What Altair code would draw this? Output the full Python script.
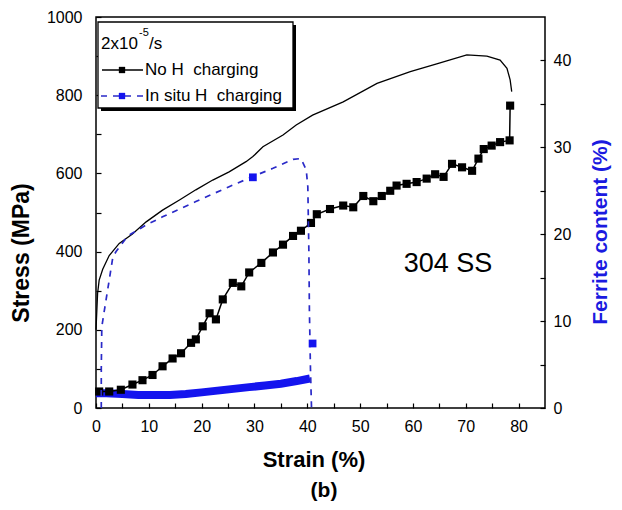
import altair as alt
import pandas as pd

# ---------------- data ----------------
# stress-strain, no H charging (black thin line)
strain_noH = [0, 0.3, 0.6, 1.27, 2.5, 4.4, 6.9, 9.5, 12.6, 15.8, 18.9, 22.1, 25.2, 28.4,
              29.7, 31.6, 35.4, 37.9, 41.0, 46.8, 53.2, 59.5, 64.5, 70.2, 74.0, 76.5,
              77.8, 78.4, 78.7]
stress_noH = [200, 293, 327, 355, 390, 421, 445, 476, 506, 532, 558, 583, 604, 630,
              643, 668, 698, 724, 749, 783, 830, 860, 880, 903, 900, 890,
              869, 839, 809]

# stress-strain, in situ H charging (blue dashed line)
strain_H = [1.0, 1.0, 1.1, 1.6, 2.5, 3.2, 3.8, 6.0, 9.5, 12.6, 18.9, 25.2, 29.7, 33.5,
            37.3, 38.8, 39.8, 40.1, 40.3, 40.4, 40.6, 40.8]
stress_H = [0, 100, 208, 251, 327, 387, 400, 440, 468, 489, 528, 566, 592, 613,
            636, 638, 609, 566, 400, 250, 100, 0]
marker_strain_H = [29.7, 41.0]
marker_stress_H = [590, 165]

# ferrite content, no H charging (black squares)
fer_strain_noH = [0.6, 2.5, 4.7, 6.9, 8.8, 10.7, 12.6, 14.5, 16.1, 18.0, 18.9, 20.2, 21.5,
                  22.7, 24.0, 25.9, 27.5, 29.0, 31.3, 33.5, 35.4, 37.3, 38.8, 40.7, 41.8,
                  44.3, 46.8, 48.7, 50.6, 52.5, 54.1, 55.7, 56.9, 58.8, 60.7, 62.6, 64.2,
                  65.8, 67.4, 69.3, 71.2, 72.4, 73.4, 74.9, 76.5, 78.3, 78.4]
ferrite_noH = [1.9, 1.9, 2.1, 2.7, 3.2, 3.8, 4.8, 5.7, 6.3, 7.5, 7.9, 9.4, 10.9,
               10.2, 12.5, 14.4, 14.0, 15.6, 16.7, 17.9, 18.8, 19.8, 20.4, 21.3, 22.3,
               22.9, 23.3, 23.1, 24.4, 23.8, 24.4, 25.0, 25.6, 25.8, 26.0, 26.4, 26.9,
               26.6, 28.1, 27.7, 27.3, 28.7, 29.8, 30.2, 30.6, 30.8, 34.8]

# ferrite content, in situ H charging (blue band)
fer_strain_H = [0, 2, 5, 8, 11, 14, 17, 20, 23, 26, 29, 32, 35, 38, 40.5]
ferrite_H = [1.7, 1.7, 1.6, 1.5, 1.5, 1.5, 1.6, 1.8, 2.0, 2.2, 2.4, 2.6, 2.8, 3.1, 3.4]

x_ticks = list(range(0, 85, 5))
stress_ticks = list(range(0, 1001, 100))
ferrite_ticks = list(range(0, 45, 5))

# ---------------- styling ----------------
W, H = 449, 391
FONT = "Liberation Sans"
BLUE = "#1414ee"
DASH_BLUE = "#2a2ac8"
TITLE_BLUE = "#1a1ae0"
NB = "\u00a0"

df_s1 = pd.DataFrame({"strain": strain_noH, "stress": stress_noH, "i": range(len(strain_noH))})
df_s2 = pd.DataFrame({"strain": strain_H, "stress": stress_H, "i": range(len(strain_H))})
df_m2 = pd.DataFrame({"strain": marker_strain_H, "stress": marker_stress_H})
df_f1 = pd.DataFrame({"strain": fer_strain_noH, "fer": ferrite_noH, "i": range(len(fer_strain_noH))})
df_f2 = pd.DataFrame({"strain": fer_strain_H, "fer": ferrite_H, "i": range(len(fer_strain_H))})
one = pd.DataFrame({"k": [0]})

x_axis = alt.Axis(values=x_ticks, labelExpr="datum.value % 10 === 0 ? datum.label : ''",
                  format="d", offset=-5, tickSize=5, domain=False, grid=False, title=None,
                  labelPadding=10, labelFontSize=16, labelFont=FONT, labelColor="black",
                  tickColor="black", tickWidth=1.2, labelFlush=False)
xenc = alt.X("strain:Q", scale=alt.Scale(domain=[0, 85], nice=False, zero=False), axis=x_axis)

ax_stress = alt.Axis(values=stress_ticks, labelExpr="datum.value % 200 === 0 ? datum.label : ''",
                     format="d", orient="left", offset=-5, tickSize=5, domain=False, grid=False,
                     title=None, labelPadding=14, labelFontSize=16, labelFont=FONT,
                     labelColor="black", tickColor="black", tickWidth=1.2)
ax_fer = alt.Axis(values=ferrite_ticks, labelExpr="datum.value % 10 === 0 ? datum.label : ''",
                  format="d", orient="right", offset=-5, tickSize=5, domain=False, grid=False,
                  title=None, labelPadding=8, labelFontSize=16, labelFont=FONT,
                  labelColor="black", tickColor="black", tickWidth=1.2)

y_s = alt.Y("stress:Q", scale=alt.Scale(domain=[0, 1000], nice=False), axis=ax_stress)
y_f = alt.Y("fer:Q", scale=alt.Scale(domain=[0, 45], nice=False), axis=ax_fer)

black_stress = alt.Chart(df_s1).mark_line(color="black", strokeWidth=1.3).encode(
    x=xenc, y=y_s, order="i:Q")
blue_stress = alt.Chart(df_s2).mark_line(color=DASH_BLUE, strokeWidth=1.7, strokeDash=[6, 6]).encode(
    x=xenc, y=y_s, order="i:Q")
blue_marks = alt.Chart(df_m2).mark_square(color=BLUE, size=60, opacity=1).encode(x=xenc, y=y_s)


def txt(t, x, y, size=16, weight="normal", color="black", angle=0, align="left"):
    return alt.Chart(one).mark_text(text=t, font=FONT, fontSize=size, fontWeight=weight,
                                    color=color, angle=angle, align=align,
                                    baseline="middle").encode(x=alt.value(x), y=alt.value(y))


# legend box
shadow = alt.Chart(one).mark_rect(fill="black").encode(
    x=alt.value(5), x2=alt.value(200), y=alt.value(8), y2=alt.value(94))
box = alt.Chart(one).mark_rect(fill="white", stroke="black", strokeWidth=1.3).encode(
    x=alt.value(2), x2=alt.value(197), y=alt.value(5), y2=alt.value(91))
leg_l1 = alt.Chart(one).mark_rule(color="black", strokeWidth=1.5).encode(
    x=alt.value(6), x2=alt.value(47), y=alt.value(53))
leg_s1 = alt.Chart(one).mark_square(color="black", size=40, opacity=1).encode(
    x=alt.value(26), y=alt.value(53))
leg_l2 = alt.Chart(one).mark_rule(color=DASH_BLUE, strokeWidth=1.7, strokeDash=[6, 6]).encode(
    x=alt.value(5), x2=alt.value(48), y=alt.value(79))
leg_s2 = alt.Chart(one).mark_square(color=BLUE, size=40, opacity=1).encode(
    x=alt.value(26), y=alt.value(79))

deco = [
    shadow, box,
    txt("2x10", 5, 27, 17), txt("-5", 43, 16, 11), txt("/s", 53, 27, 17),
    leg_l1, leg_s1, txt("No H" + NB + NB + "charging", 49, 53, 17),
    leg_l2, leg_s2, txt("In situ H" + NB + NB + "charging", 49, 79, 17),
    txt("304 SS", 352, 247, 27, align="center"),
    txt("Stress (MPa)", -74, 236, 23, "bold", angle=270, align="center"),
    txt("Ferrite content (%)", 505, 215, 21, "bold", TITLE_BLUE, angle=270, align="center"),
    txt("Strain (%)", 218, 443, 22, "bold", align="center"),
    txt("(b)", 228, 474, 21, "bold", align="center"),
]

stress_group = alt.layer(black_stress, blue_stress, blue_marks, *deco)

blue_band = alt.Chart(df_f2).mark_line(color=BLUE, strokeWidth=8).encode(
    x=xenc, y=y_f, order="i:Q")
black_fer_line = alt.Chart(df_f1).mark_line(color="black", strokeWidth=1.5).encode(
    x=xenc, y=y_f, order="i:Q")
black_fer_pts = alt.Chart(df_f1).mark_square(color="black", size=66, opacity=1).encode(
    x=xenc, y=y_f)

ferrite_group = alt.layer(blue_band, black_fer_line, black_fer_pts)

chart = alt.layer(ferrite_group, stress_group).resolve_scale(y="independent").properties(
    width=W, height=H,
    autosize=alt.AutoSizeParams(type="none"),
    padding={"left": 88, "top": 9, "right": 69, "bottom": 94},
    background="white",
).configure_view(stroke="black", strokeWidth=1.5)

chart.save("out.html", embed_options={"renderer": "svg", "actions": False})
